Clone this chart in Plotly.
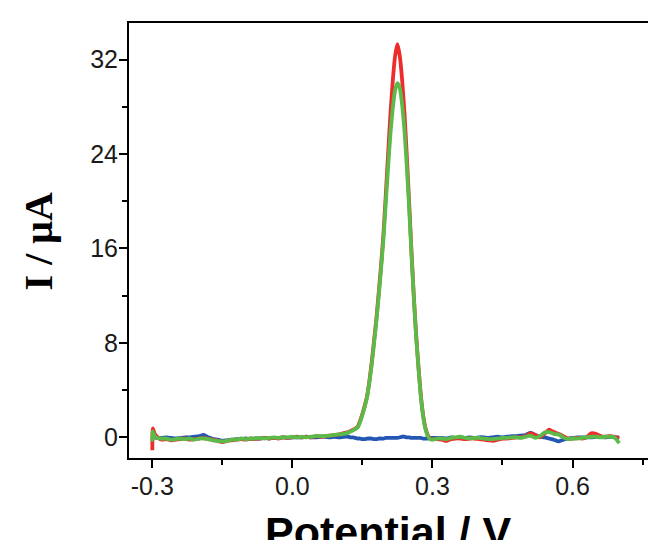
import plotly.graph_objects as go

# Potential (V) sampling grid
potential_a = [-0.300, -0.299, -0.295, -0.290, -0.280, -0.270, -0.260, -0.250, -0.240, -0.230,
               -0.220, -0.210, -0.200, -0.190, -0.180, -0.170, -0.160, -0.150, -0.140, -0.130,
               -0.120, -0.110, -0.100, -0.090, -0.080, -0.070, -0.060, -0.050, -0.040, -0.030,
               -0.020, -0.010, 0.000, 0.010, 0.020, 0.030, 0.040, 0.050, 0.060, 0.070,
               0.080, 0.090, 0.100, 0.110]
potential_b = [0.120, 0.125, 0.130, 0.135, 0.140, 0.145, 0.150, 0.155, 0.160, 0.165,
               0.170, 0.175, 0.180, 0.185, 0.190, 0.195, 0.200, 0.205, 0.210, 0.215,
               0.220, 0.225, 0.230, 0.235, 0.240, 0.245, 0.250, 0.255, 0.260, 0.265,
               0.270, 0.275, 0.280, 0.285, 0.290, 0.295, 0.300]
potential_c = [0.31, 0.32, 0.33, 0.34, 0.35, 0.36, 0.37, 0.38, 0.39, 0.40,
               0.41, 0.42, 0.43, 0.44, 0.45, 0.46, 0.47, 0.48, 0.49, 0.50,
               0.51, 0.52, 0.53, 0.54, 0.55, 0.56, 0.57, 0.58, 0.59, 0.60,
               0.61, 0.62, 0.63, 0.64, 0.65, 0.66, 0.67, 0.68, 0.69, 0.70]
potential = potential_a + potential_b + potential_c

# Current (uA) - blue trace
blue_a = [0.0, 0.05, 0.0, -0.05, -0.05, 0.0, -0.05, -0.1, -0.05, 0.0,
          0.0, 0.05, 0.1, 0.2, 0.0, -0.15, -0.2, -0.3, -0.25, -0.2,
          -0.15, -0.15, -0.1, -0.15, -0.1, -0.1, -0.05, -0.1, -0.05, -0.05,
          0.0, -0.05, 0.0, 0.0, 0.0, 0.05, 0.0, 0.0, 0.05, 0.05,
          0.0, 0.05, 0.0, 0.05]
blue_b = [0.05, 0.0, 0.0, -0.05, -0.1, -0.1, -0.15, -0.15, -0.1, -0.1,
          -0.1, -0.15, -0.15, -0.1, -0.1, -0.1, -0.05, -0.05, -0.05, -0.05,
          -0.05, -0.05, 0.0, 0.05, 0.05, 0.0, 0.0, -0.05, -0.05, -0.05,
          -0.05, -0.05, -0.1, -0.1, -0.1, -0.05, -0.05]
blue_c = [-0.05, -0.05, -0.1, 0.0, -0.05, 0.0, -0.05, 0.0, -0.05, 0.0,
          0.0, -0.05, 0.0, 0.05, 0.0, 0.05, 0.1, 0.1, 0.15, 0.2,
          0.4, 0.2, 0.05, 0.0, -0.1, -0.2, -0.35, -0.2, -0.1, -0.05,
          0.0, 0.0, 0.0, 0.0, 0.05, 0.05, 0.0, 0.05, 0.0, 0.0]

# Current (uA) - red trace
red_a = [-1.1, 0.75, 0.3, 0.05, -0.2, -0.15, -0.25, -0.2, -0.15, -0.1,
         -0.2, -0.15, -0.1, -0.05, -0.15, -0.2, -0.3, -0.4, -0.3, -0.25,
         -0.2, -0.15, -0.2, -0.1, -0.15, -0.1, -0.05, -0.1, -0.05, -0.1,
         0.0, -0.05, 0.0, 0.05, 0.0, 0.05, 0.0, 0.1, 0.05, 0.1,
         0.15, 0.2, 0.25, 0.35]
red_b = [0.45, 0.55, 0.65, 0.75, 0.9, 1.4, 2.0, 2.7, 3.5, 4.8,
         6.4, 8.2, 10.1, 12.3, 14.6, 17.2, 20.5, 24.0, 27.4, 30.2,
         32.3, 33.3, 32.3, 30.3, 27.5, 23.9, 20.0, 15.8, 12.0, 8.7,
         6.0, 3.6, 1.9, 0.8, 0.2, -0.1, -0.15]
red_c = [-0.15, -0.2, -0.3, -0.15, -0.1, -0.1, -0.15, -0.1, -0.1, -0.15,
         -0.2, -0.25, -0.3, -0.2, -0.1, -0.1, -0.05, 0.0, 0.0, 0.1,
         0.35, 0.2, 0.0, 0.3, 0.65, 0.45, 0.3, 0.1, -0.1, -0.1,
         -0.05, -0.1, 0.0, 0.35, 0.3, 0.1, 0.05, 0.1, 0.05, -0.1]

# Current (uA) - green trace
green_a = [-0.35, 0.5, 0.1, -0.05, -0.1, -0.1, -0.2, -0.15, -0.1, -0.15,
           -0.1, -0.2, -0.1, -0.1, -0.15, -0.25, -0.3, -0.35, -0.3, -0.2,
           -0.2, -0.1, -0.15, -0.1, -0.1, -0.05, -0.1, -0.05, 0.0, -0.05,
           0.0, 0.0, 0.05, 0.0, 0.05, 0.0, 0.05, 0.1, 0.1, 0.1,
           0.15, 0.2, 0.25, 0.3]
green_b = [0.4, 0.5, 0.6, 0.7, 0.85, 1.3, 1.9, 2.6, 3.4, 4.7,
           6.2, 8.0, 9.9, 12.0, 14.3, 16.8, 19.8, 22.9, 25.7, 27.9,
           29.4, 30.0, 29.6, 28.2, 26.0, 23.0, 19.5, 15.6, 11.9, 8.6,
           5.9, 3.5, 1.8, 0.7, 0.1, -0.15, -0.2]
green_c = [-0.1, -0.1, -0.15, -0.05, 0.0, 0.05, -0.05, -0.1, -0.05, -0.05,
           -0.1, -0.15, -0.15, -0.1, -0.05, -0.05, 0.0, 0.0, -0.05, 0.05,
           0.15, -0.05, 0.1, 0.4, 0.45, 0.3, 0.25, 0.0, -0.15, -0.1,
           -0.1, -0.05, 0.0, 0.05, 0.05, 0.0, 0.05, 0.05, 0.0, -0.5]

blue = blue_a + blue_b + blue_c
red = red_a + red_b + red_c
green = green_a + green_b + green_c

x_tickvals = [-0.3, 0.0, 0.3, 0.6]
x_ticktext = ["-0.3", "0.0", "0.3", "0.6"]
y_tickvals = [0, 8, 16, 24, 32]
y_ticktext = ["0", "8", "16", "24", "32"]

fig = go.Figure()
for name, ys, color in [("blue", blue, "#2456B4"), ("red", red, "#EE2C2C"), ("green", green, "#5CBA48")]:
    fig.add_trace(go.Scatter(
        x=potential, y=ys, mode="lines", name=name,
        line=dict(color=color, width=3.8, shape="spline", smoothing=0.5),
        showlegend=False,
    ))

tickfont = dict(family="Liberation Sans, Arial, sans-serif", size=25, color="#1a1a1a")

fig.update_layout(
    width=656, height=540,
    margin=dict(l=121, r=0, t=15, b=90),
    paper_bgcolor="white", plot_bgcolor="white",
    xaxis=dict(
        range=[-0.35, 0.796], showgrid=False, zeroline=False,
        showline=True, linecolor="black", linewidth=2, mirror=True,
        ticks="outside", ticklen=8, tickwidth=1.5, tickcolor="black",
        tickvals=x_tickvals, ticktext=x_ticktext, tickfont=tickfont,
        ticklabelstandoff=-3,
        minor=dict(ticks="outside", ticklen=5, tickwidth=1.5, tickcolor="black",
                   tickvals=[-0.15, 0.15, 0.45, 0.75]),
    ),
    yaxis=dict(
        range=[-1.75, 35.1], showgrid=False, zeroline=False,
        showline=True, linecolor="black", linewidth=2,
        ticks="outside", ticklen=8, tickwidth=1.5, tickcolor="black",
        tickvals=y_tickvals, ticktext=y_ticktext, tickfont=tickfont,
        ticklabelstandoff=-4,
        minor=dict(ticks="outside", ticklen=5, tickwidth=1.5, tickcolor="black",
                   tickvals=[4, 12, 20, 28]),
    ),
    annotations=[
        dict(text="<b>I / μA</b>", textangle=-90, xref="paper", yref="paper",
             x=-0.170, y=0.498, xanchor="center", yanchor="middle", showarrow=False,
             font=dict(family="Liberation Serif, Times New Roman, serif", size=40, color="black")),
        dict(text="<b>Potential / V</b>", xref="paper", yref="paper",
             x=0.484, y=-0.11, xanchor="center", yanchor="top", showarrow=False,
             font=dict(family="Liberation Sans, Arial, sans-serif", size=43, color="black")),
    ],
)

fig.write_html("out.html")
